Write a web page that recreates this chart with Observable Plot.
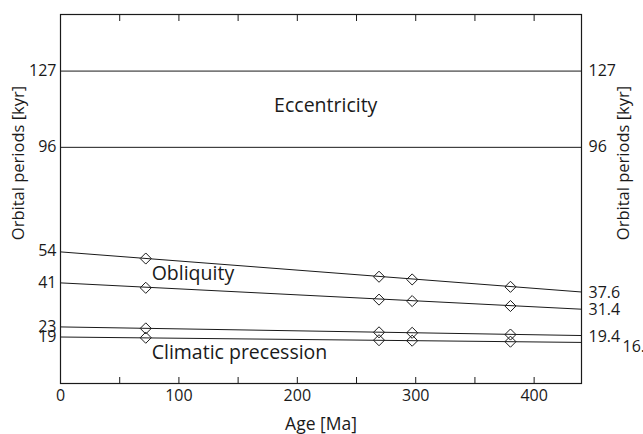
<!DOCTYPE html>
<html><head><meta charset="utf-8">
<script src="https://cdn.jsdelivr.net/npm/d3@7"></script>
<script src="https://cdn.jsdelivr.net/npm/@observablehq/plot@0.6"></script>
<style>html,body{margin:0;padding:0;overflow:hidden;background:#fff}</style>
</head><body><div id="chart"></div>
<script>
// Series (straight period trends, ages in Ma, periods in kyr)
const series = ["Obliquity 1", "Obliquity 2", "Precession 1", "Precession 2"];
const lineAges = [0, 440];
const startPeriods = [53.5, 40.9, 23.0, 18.9];
const endPeriods = [37.2, 30.2, 19.5, 16.7];
// Diamond samples
const sampleAges = [72, 269, 297, 380];
const samplePeriods = [
  [50.8, 43.4, 42.3, 39.3],
  [38.9, 34.1, 33.5, 31.5],
  [22.4, 20.8, 20.6, 19.9],
  [18.6, 17.6, 17.4, 17.0]
];
// Eccentricity periods (constant)
const eccentricity = [127, 96];
// Tick labels
const leftTicks = [127, 96, 54, 41, 23, 19];
const rightTicks = [127, 96];
const endLabels = ["37.6", "31.4", "19.4", "16.7"];
const xMinorTicks = [0, 50, 100, 150, 200, 250, 300, 350, 400];
const xLabelTicks = [0, 100, 200, 300, 400];
// Annotations
const annotationTexts = ["Eccentricity", "Obliquity", "Climatic precession"];
const annotationAges = [224, 77, 77];
const annotationPeriods = [113, 44.6, 12.6];

const lineData = series.flatMap((s, i) => [
  {s, age: lineAges[0], period: startPeriods[i]},
  {s, age: lineAges[1], period: endPeriods[i]}
]);
const dotData = series.flatMap((s, i) => sampleAges.map((a, j) => ({s, age: a, period: samplePeriods[i][j]})));
const endData = series.map((s, i) => ({s, age: lineAges[1], period: endPeriods[i], label: endLabels[i]}));
const annData = annotationTexts.map((t, i) => ({t, age: annotationAges[i], period: annotationPeriods[i]}));

const ink = "#1a1a1a";
const chart = Plot.plot({
  width: 643, height: 434,
  marginLeft: 60, marginRight: 62, marginTop: 14, marginBottom: 51,
  x: {domain: [0, 440]},
  y: {domain: [0, 150]},
  style: {fontFamily: "'Open Sans', sans-serif", fontSize: "16px", color: ink, background: "#fff"},
  marks: [
    Plot.ruleY(eccentricity, {stroke: ink, strokeWidth: 1}),
    Plot.line(lineData, {x: "age", y: "period", z: "s", stroke: ink, strokeWidth: 1}),
    Plot.dot(dotData, {x: "age", y: "period", symbol: "diamond2", r: 5, stroke: ink, fill: "none", strokeWidth: 1}),
    Plot.frame({stroke: ink, strokeWidth: 1.2}),
    Plot.axisX(xMinorTicks, {anchor: "bottom", tickSize: -6, tickFormat: () => "", label: null, stroke: ink}),
    Plot.axisX(xMinorTicks, {anchor: "top", tickSize: -6, tickFormat: () => "", label: null, stroke: ink}),
    Plot.axisX(xLabelTicks, {anchor: "bottom", tickSize: 0, tickPadding: 6, label: null, fontSize: 16}),
    Plot.axisY(leftTicks, {anchor: "left", tickSize: 0, tickPadding: 4, label: null, fontSize: 16}),
    Plot.axisY(rightTicks, {anchor: "right", tickSize: 0, tickPadding: 7, label: null, fontSize: 16}),
    Plot.text(endData.slice(0, 3), {x: "age", y: "period", text: "label", textAnchor: "start", dx: 7, dy: 1, fontSize: 16}),
    Plot.text(endData.slice(3), {x: "age", y: "period", text: "label", textAnchor: "start", dx: 41, dy: 4, fontSize: 16}),
    Plot.text(annData.slice(0, 1), {x: "age", y: "period", text: "t", textAnchor: "middle", fontSize: 19.5}),
    Plot.text(annData.slice(1), {x: "age", y: "period", text: "t", textAnchor: "start", fontSize: 19.5}),
    Plot.text(["Orbital periods [kyr]"], {text: d => d, frameAnchor: "left", textAnchor: "middle", lineAnchor: "middle", rotate: -90, dx: -42, dy: -36, fontSize: 16.5}),
    Plot.text(["Orbital periods [kyr]"], {text: d => d, frameAnchor: "right", textAnchor: "middle", lineAnchor: "middle", rotate: -90, dx: 42, dy: -36, fontSize: 16.5}),
    Plot.text(["Age [Ma]"], {text: d => d, frameAnchor: "bottom", textAnchor: "middle", lineAnchor: "middle", dy: 41, fontSize: 17.5})
  ]
});
document.getElementById("chart").append(chart);
</script>
</body></html>
